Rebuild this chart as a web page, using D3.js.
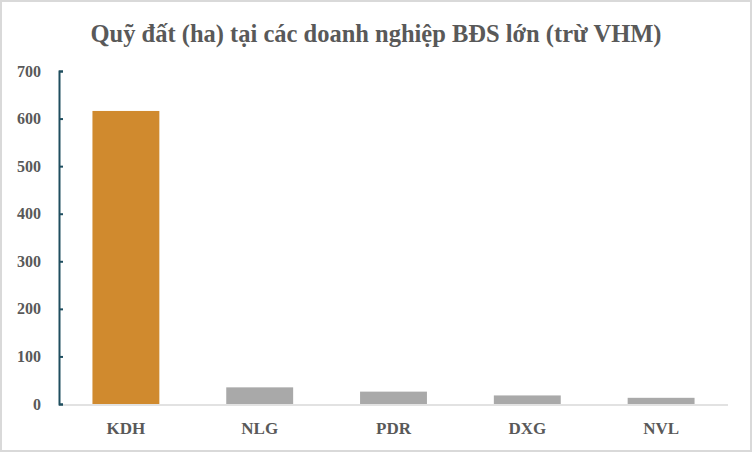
<!DOCTYPE html>
<html><head><meta charset="utf-8">
<script src="https://cdn.jsdelivr.net/npm/d3@7"></script>
<style>body{margin:0;background:#fff}</style>
</head><body>
<svg id="chart" width="752" height="452"></svg>
<script>
const categories = ["KDH", "NLG", "PDR", "DXG", "NVL"];
const values = [616, 35, 26, 18, 13];
const yTicks = [0, 100, 200, 300, 400, 500, 600, 700];

const svg = d3.select("#chart");
const font = "'Liberation Serif', 'Times New Roman', serif";
svg.append("rect").attr("x", 1).attr("y", 1).attr("width", 750).attr("height", 450)
  .attr("fill", "#fff").attr("stroke", "#d9d9d9").attr("stroke-width", 2);

const x = d3.scaleBand().domain(categories).range([59, 728]).paddingInner(0.5).paddingOuter(0.25);
const y = d3.scaleLinear().domain([0, 700]).range([404, 71]);

svg.append("text").attr("x", 376).attr("y", 42).attr("text-anchor", "middle")
  .attr("font-family", font).attr("font-weight", "bold").attr("font-size", 24.5)
  .attr("fill", "#595959").text("Quỹ đất (ha) tại các doanh nghiệp BĐS lớn (trừ VHM)");

svg.selectAll(".bar").data(values).enter().append("rect")
  .attr("x", (d, i) => x(categories[i])).attr("width", x.bandwidth())
  .attr("y", d => y(d)).attr("height", d => y(0) - y(d))
  .attr("fill", (d, i) => i === 0 ? "#d08a2e" : "#a9a9a9");

svg.append("line").attr("x1", 59).attr("x2", 728).attr("y1", y(0) + 1).attr("y2", y(0) + 1)
  .attr("stroke", "#d9d9d9").attr("stroke-width", 1.5);

const yAxis = svg.append("g").attr("transform", "translate(59,0)")
  .call(d3.axisLeft(y).tickValues(yTicks).tickSize(-4).tickPadding(18));
yAxis.select(".domain").attr("stroke", "#1f4e5f").attr("stroke-width", 2);
yAxis.selectAll(".tick line").attr("stroke", "#1f4e5f").attr("stroke-width", 2);
yAxis.selectAll("text").attr("font-family", font).attr("font-weight", "bold")
  .attr("font-size", 16).attr("fill", "#595959");

const xAxis = svg.append("g").attr("transform", "translate(0," + y(0) + ")")
  .call(d3.axisBottom(x).tickSize(0).tickPadding(18));
xAxis.select(".domain").remove();
xAxis.selectAll("text").attr("font-family", font).attr("font-weight", "bold")
  .attr("font-size", 17).attr("fill", "#595959");
</script>
</body></html>
